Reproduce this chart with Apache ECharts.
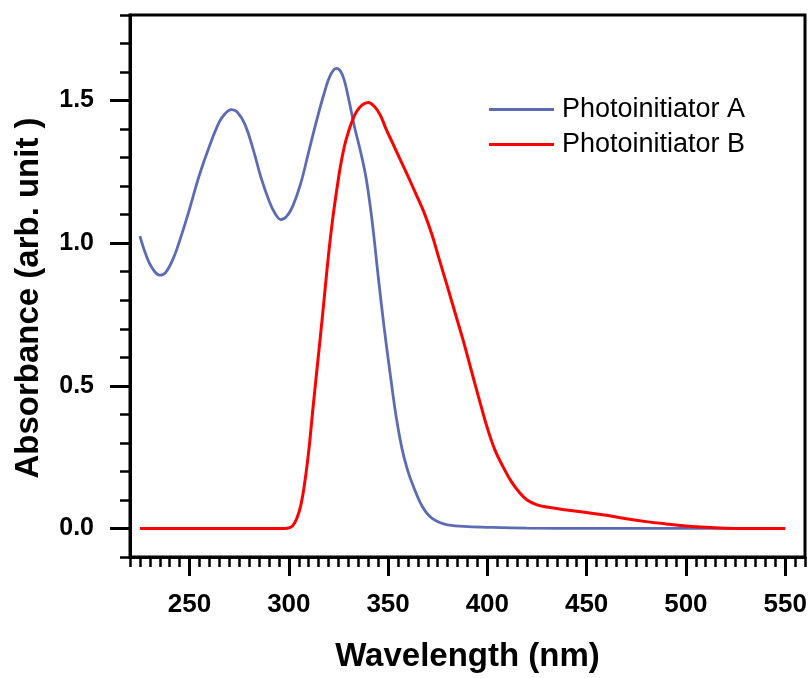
<!DOCTYPE html>
<html>
<head>
<meta charset="utf-8">
<title>Absorbance</title>
<script src="https://cdn.jsdelivr.net/npm/echarts@6/dist/echarts.min.js"></script>
<style>
    html, body { margin: 0; padding: 0; background: #fff; }
    #absorb { width: 810px; height: 678px; }
</style>
</head>
<body>
<div id="absorb"></div>
<script>
// wavelength (nm), absorbance
var seriesNames = ['Photoinitiator A', 'Photoinitiator B'];
var piA = [
    [225, 1.025], [228, 0.96], [231, 0.915], [235, 0.888], [238, 0.898], [242, 0.95],
    [246, 1.03], [250, 1.12], [255, 1.24], [260, 1.34], [265, 1.425], [268, 1.455],
    [271, 1.468], [274, 1.46], [278, 1.415], [282, 1.33], [286, 1.23], [290, 1.15],
    [293, 1.105], [296, 1.083], [299, 1.095], [302, 1.13], [306, 1.21], [310, 1.32],
    [314, 1.43], [318, 1.53], [321, 1.59], [324, 1.613], [327, 1.59], [330, 1.51],
    [333, 1.41], [336, 1.325], [339, 1.225], [342, 1.075], [345, 0.885], [348, 0.705],
    [351, 0.545], [354, 0.395], [357, 0.28], [360, 0.2], [363, 0.143], [366, 0.093],
    [369, 0.058], [372, 0.036], [376, 0.021], [380, 0.013], [388, 0.007], [400, 0.004],
    [420, 0.001], [450, 0], [500, 0], [550, 0]
];
var piB = [
    [225, 0], [260, 0], [298, 0], [300, 0.002], [302, 0.01], [304, 0.035], [306, 0.08],
    [308, 0.16], [310, 0.27], [312, 0.41], [314, 0.546], [316, 0.68], [318, 0.82],
    [320, 0.96], [322, 1.08], [324, 1.18], [326, 1.27], [328, 1.34], [330, 1.39],
    [332, 1.43], [334, 1.46], [337, 1.485], [340, 1.493], [343, 1.48], [346, 1.45],
    [349, 1.4], [352, 1.355], [356, 1.295], [360, 1.235], [364, 1.173], [368, 1.11],
    [372, 1.032], [376, 0.938], [380, 0.845], [384, 0.75], [388, 0.655], [392, 0.552],
    [396, 0.45], [400, 0.352], [404, 0.272], [408, 0.215], [412, 0.165], [416, 0.128],
    [420, 0.1], [425, 0.083], [430, 0.075], [440, 0.065], [450, 0.056], [460, 0.046],
    [470, 0.034], [480, 0.024], [490, 0.016], [500, 0.009], [510, 0.004], [520, 0.001],
    [530, 0], [550, 0]
];
var xTicks = [250, 300, 350, 400, 450, 500, 550];
var yTicks = [0, 0.5, 1.0, 1.5];

var absChart = echarts.init(document.getElementById('absorb'));
var font = 'Arial, "Liberation Sans", sans-serif';

var option = {
    animation: false,
    backgroundColor: '#fff',
    grid: {
        left: 130,
        right: 5,
        top: 15,
        bottom: 120,
        show: true,
        borderColor: '#000',
        borderWidth: 3
    },
    legend: {
        orient: 'vertical',
        left: 489,
        top: 96,
        padding: 0,
        icon: 'rect',
        itemWidth: 65,
        itemHeight: 3,
        itemGap: 8,
        textStyle: {
            fontFamily: font,
            fontSize: 27,
            color: '#000',
            padding: [0, 0, 0, 3]
        },
        data: seriesNames
    },
    xAxis: [
        {
            type: 'value',
            min: 220,
            max: 560,
            position: 'bottom',
            name: 'Wavelength (nm)',
            nameLocation: 'middle',
            nameGap: 83,
            nameTextStyle: {fontFamily: font, fontSize: 33, fontWeight: 'bold', color: '#000'},
            axisLine: {onZero: false, lineStyle: {color: '#000', width: 3}},
            axisTick: {customValues: xTicks, length: 19, lineStyle: {color: '#000', width: 3}},
            axisLabel: {
                customValues: xTicks,
                margin: 35,
                fontFamily: font,
                fontSize: 26,
                fontWeight: 'bold',
                color: '#000'
            },
            splitLine: {show: false}
        },
        {
            // minor ticks every 5 nm
            type: 'value',
            min: 220,
            max: 560,
            interval: 5,
            position: 'bottom',
            axisLine: {show: false, onZero: false},
            axisTick: {length: 10, lineStyle: {color: '#000', width: 2.5}},
            axisLabel: {show: false},
            splitLine: {show: false}
        }
    ],
    yAxis: [
        {
            type: 'value',
            min: -0.1,
            max: 1.8,
            position: 'left',
            name: 'Absorbance (arb. unit )',
            nameLocation: 'middle',
            nameGap: 85,
            nameTextStyle: {
                fontFamily: font,
                fontSize: 33,
                fontWeight: 'bold',
                color: '#000',
                padding: [0, 24, 0, 0]
            },
            axisLine: {onZero: false, lineStyle: {color: '#000', width: 3}},
            axisTick: {customValues: yTicks, length: 20, lineStyle: {color: '#000', width: 3}},
            axisLabel: {
                customValues: yTicks,
                margin: 36,
                fontFamily: font,
                fontSize: 25,
                fontWeight: 'bold',
                color: '#000',
                formatter: function (v) {
                    return v.toFixed(1);
                }
            },
            splitLine: {show: false}
        },
        {
            // minor ticks every 0.1
            type: 'value',
            min: -0.1,
            max: 1.8,
            interval: 0.1,
            position: 'left',
            axisLine: {show: false, onZero: false},
            axisTick: {length: 10, lineStyle: {color: '#000', width: 2.5}},
            axisLabel: {show: false},
            splitLine: {show: false}
        }
    ],
    series: [
        {
            name: seriesNames[0],
            type: 'line',
            symbol: 'none',
            smooth: 0.4,
            color: '#5c6bb4',
            lineStyle: {color: '#5c6bb4', width: 2.8},
            data: piA
        },
        {
            name: seriesNames[1],
            type: 'line',
            symbol: 'none',
            smooth: 0.4,
            color: '#ff0000',
            lineStyle: {color: '#ff0000', width: 3},
            data: piB
        }
    ]
};

absChart.setOption(option);
window.addEventListener('resize', function () {
    absChart.resize();
});
</script>
</body>
</html>
